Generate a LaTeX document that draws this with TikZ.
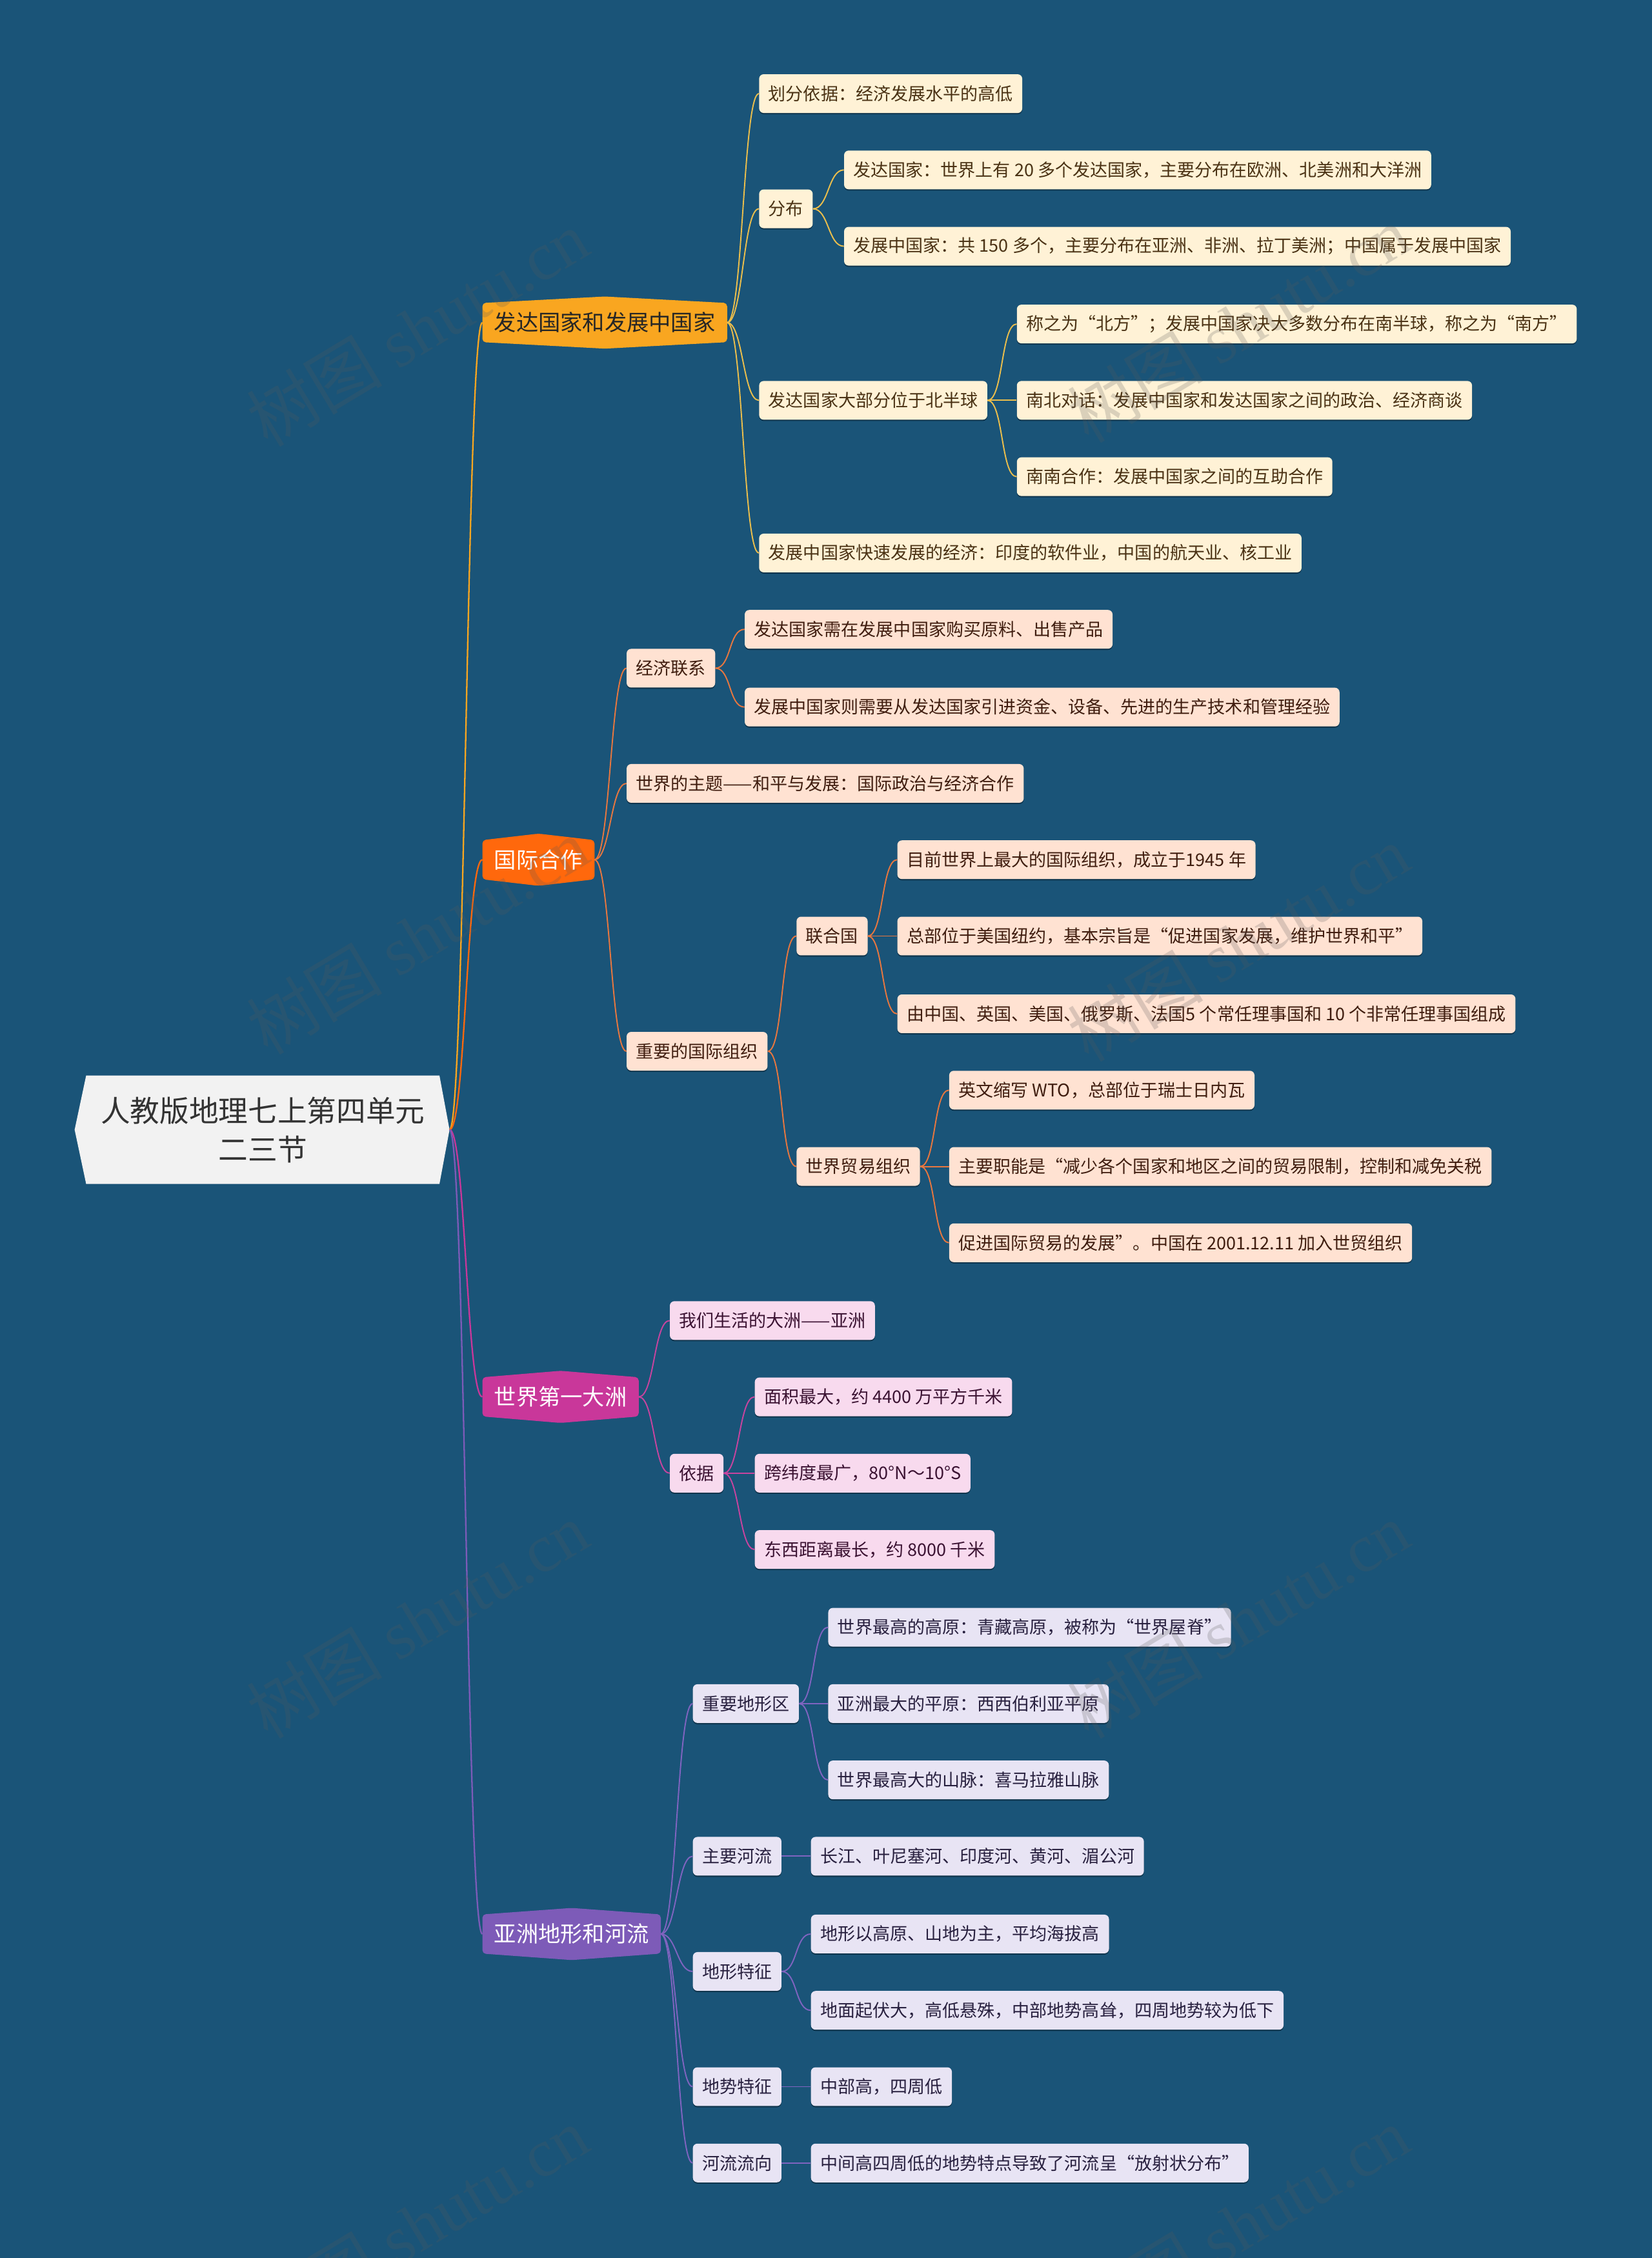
\documentclass[tikz,border=0pt]{standalone}
\usepackage{fontspec}
\setmainfont{Noto Sans CJK SC}
\newfontfamily\wmfont{Liberation Serif}
\usepackage{tikz}
\usetikzlibrary{calc,backgrounds,shadows}
\definecolor{cBg}{HTML}{1A5478}
\definecolor{cRoot}{HTML}{F2F2F2}
\definecolor{cA}{HTML}{F9A620}
\definecolor{cB}{HTML}{FF680C}
\definecolor{cC}{HTML}{C9379A}
\definecolor{cD}{HTML}{7D5BB8}
\definecolor{fA}{HTML}{FFF2D6}
\definecolor{fB}{HTML}{FFE2D2}
\definecolor{fC}{HTML}{F8DAEE}
\definecolor{fD}{HTML}{E8E4F4}
\definecolor{lA}{HTML}{EBBE4C}
\definecolor{lB}{HTML}{E8773F}
\definecolor{lC}{HTML}{C8449F}
\definecolor{lD}{HTML}{8064C0}
\definecolor{tA}{HTML}{4A3214}
\definecolor{tB}{HTML}{3F1D0F}
\definecolor{tC}{HTML}{3B1232}
\definecolor{tD}{HTML}{28203F}
\tikzset{
  leaf/.style={anchor=west,rounded corners=4pt,inner xsep=0.29cm,inner ysep=0pt,
    minimum height=1.2cm,font=\fontsize{15.4}{18}\selectfont,
    drop shadow={shadow xshift=0pt,shadow yshift=-1.2pt,opacity=.35,fill=black}},
  leafA/.style={leaf,fill=fA,text=tA},
  leafB/.style={leaf,fill=fB,text=tB},
  leafC/.style={leaf,fill=fC,text=tC},
  leafD/.style={leaf,fill=fD,text=tD},
  branch/.style={anchor=west,inner xsep=0.36cm,inner ysep=0pt,minimum height=1.2cm,
    font=\fontsize{19.5}{23}\selectfont},
  rootbox/.style={minimum width=10.94cm,minimum height=3.35cm,align=center,
    text=black!80,font=\fontsize{26}{34}\selectfont},
  wire/.style={line width=1.1pt},
  wm/.style={rotate=31,text=black!65,opacity=.22,font=\fontsize{60}{60}\selectfont}
}
% curved connector from parent to child
\newcommand{\link}[3]{\draw[wire,#1] (#2) .. controls ($(#2)+(11,0)$) and ($(#3)+(-11,0)$) .. (#3);}
\newcommand{\brshape}[2]{%
  \begin{scope}[on background layer]
    \fill[#2,rounded corners=3pt] (#1.south west) -- (#1.north west) -- ($(#1.north)+(0,-4.5)$)
      -- (#1.north east) -- (#1.south east) -- ($(#1.south)+(0,4.5)$) -- cycle;
  \end{scope}}

\begin{document}
\begin{tikzpicture}[x=0.04464cm,y=-0.04464cm]
  \begin{scope}[on background layer]
    \fill[cBg] (0,0) rectangle (1147,1568);
  \end{scope}
  \useasboundingbox (0,0) rectangle (1147,1568);

  % root
  \node[rootbox] (root) at (182.5,784.5) {人教版地理七上第四单元\\二三节};
  \coordinate (rtip) at ($(root.east)+(7,0)$);
  \begin{scope}[on background layer]
    \fill[cRoot] (root.north west) -- (root.north east) -- (rtip) -- (root.south east)
      -- (root.south west) -- ($(root.west)+(-8,0)$) -- cycle;
  \end{scope}

  % main branches
  \node[branch,text=black!85] (b1) at (335,224) {发达国家和发展中国家};
  \node[branch,text=white] (b2) at (335,597) {国际合作};
  \node[branch,text=white] (b3) at (335,970) {世界第一大洲};
  \node[branch,text=white] (b4) at (335,1343) {亚洲地形和河流};
  \brshape{b1}{cA} \brshape{b2}{cB} \brshape{b3}{cC} \brshape{b4}{cD}

  % branch 1
  \node[leafA] (a1) at (527,65) {划分依据：经济发展水平的高低};
  \node[leafA] (a2) at (527,145) {分布};
  \node[leafA] (a21) at (586,118) {发达国家：世界上有 20 多个发达国家，主要分布在欧洲、北美洲和大洋洲};
  \node[leafA] (a22) at (586,171) {发展中国家：共 150 多个，主要分布在亚洲、非洲、拉丁美洲；中国属于发展中国家};
  \node[leafA] (a3) at (527,278) {发达国家大部分位于北半球};
  \node[leafA] (a31) at (706,225) {称之为“北方”；发展中国家决大多数分布在南半球，称之为“南方”};
  \node[leafA] (a32) at (706,278) {南北对话：发展中国家和发达国家之间的政治、经济商谈};
  \node[leafA] (a33) at (706,331) {南南合作：发展中国家之间的互助合作};
  \node[leafA] (a4) at (527,384) {发展中国家快速发展的经济：印度的软件业，中国的航天业、核工业};

  % branch 2
  \node[leafB] (c1) at (435,464) {经济联系};
  \node[leafB] (c11) at (517,437) {发达国家需在发展中国家购买原料、出售产品};
  \node[leafB] (c12) at (517,491) {发展中国家则需要从发达国家引进资金、设备、先进的生产技术和管理经验};
  \node[leafB] (c2) at (435,544) {世界的主题——和平与发展：国际政治与经济合作};
  \node[leafB] (c3) at (435,730) {重要的国际组织};
  \node[leafB] (c31) at (553,650) {联合国};
  \node[leafB] (c311) at (623,597) {目前世界上最大的国际组织，成立于1945 年};
  \node[leafB] (c312) at (623,650) {总部位于美国纽约，基本宗旨是“促进国家发展，维护世界和平”};
  \node[leafB] (c313) at (623,704) {由中国、英国、美国、俄罗斯、法国5 个常任理事国和 10 个非常任理事国组成};
  \node[leafB] (c32) at (553,810) {世界贸易组织};
  \node[leafB] (c321) at (659,757) {英文缩写 WTO，总部位于瑞士日内瓦};
  \node[leafB] (c322) at (659,810) {主要职能是“减少各个国家和地区之间的贸易限制，控制和减免关税};
  \node[leafB] (c323) at (659,863) {促进国际贸易的发展”。中国在 2001.12.11 加入世贸组织};

  % branch 3
  \node[leafC] (d1) at (465,917) {我们生活的大洲——亚洲};
  \node[leafC] (d2) at (465,1023) {依据};
  \node[leafC] (d21) at (524,970) {面积最大，约 4400 万平方千米};
  \node[leafC] (d22) at (524,1023) {跨纬度最广，80°N～10°S};
  \node[leafC] (d23) at (524,1076) {东西距离最长，约 8000 千米};

  % branch 4
  \node[leafD] (e1) at (481,1183) {重要地形区};
  \node[leafD] (e11) at (575,1130) {世界最高的高原：青藏高原，被称为“世界屋脊”};
  \node[leafD] (e12) at (575,1183) {亚洲最大的平原：西西伯利亚平原};
  \node[leafD] (e13) at (575,1236) {世界最高大的山脉：喜马拉雅山脉};
  \node[leafD] (e2) at (481,1289) {主要河流};
  \node[leafD] (e21) at (563,1289) {长江、叶尼塞河、印度河、黄河、湄公河};
  \node[leafD] (e3) at (481,1369) {地形特征};
  \node[leafD] (e31) at (563,1343) {地形以高原、山地为主，平均海拔高};
  \node[leafD] (e32) at (563,1396) {地面起伏大，高低悬殊，中部地势高耸，四周地势较为低下};
  \node[leafD] (e4) at (481,1449) {地势特征};
  \node[leafD] (e41) at (563,1449) {中部高，四周低};
  \node[leafD] (e5) at (481,1502) {河流流向};
  \node[leafD] (e51) at (563,1502) {中间高四周低的地势特点导致了河流呈“放射状分布”};

  % connectors
  \foreach \c/\col in {b1/cA,b2/cB,b3/cC,b4/cD}
    {\link{\col,line width=1.3pt}{rtip}{\c.west}}
  \foreach \p/\c in {b1/a1,b1/a2,a2/a21,a2/a22,b1/a3,a3/a31,a3/a32,a3/a33,b1/a4}
    {\link{lA}{\p.east}{\c.west}}
  \foreach \p/\c in {b2/c1,c1/c11,c1/c12,b2/c2,b2/c3,c3/c31,c31/c311,c31/c312,c31/c313,
                     c3/c32,c32/c321,c32/c322,c32/c323}
    {\link{lB}{\p.east}{\c.west}}
  \foreach \p/\c in {b3/d1,b3/d2,d2/d21,d2/d22,d2/d23}
    {\link{lC}{\p.east}{\c.west}}
  \foreach \p/\c in {b4/e1,e1/e11,e1/e12,e1/e13,b4/e2,e2/e21,b4/e3,e3/e31,e3/e32,
                     b4/e4,e4/e41,b4/e5,e5/e51}
    {\link{lD}{\p.east}{\c.west}}

  % watermark
  \foreach \x/\y in {290/228,860/225,290/650,860/655,290/1125,860/1125,290/1545,860/1545}
    {\node[wm] at (\x,\y) {树图 {\wmfont shutu.cn}};}
\end{tikzpicture}
\end{document}
